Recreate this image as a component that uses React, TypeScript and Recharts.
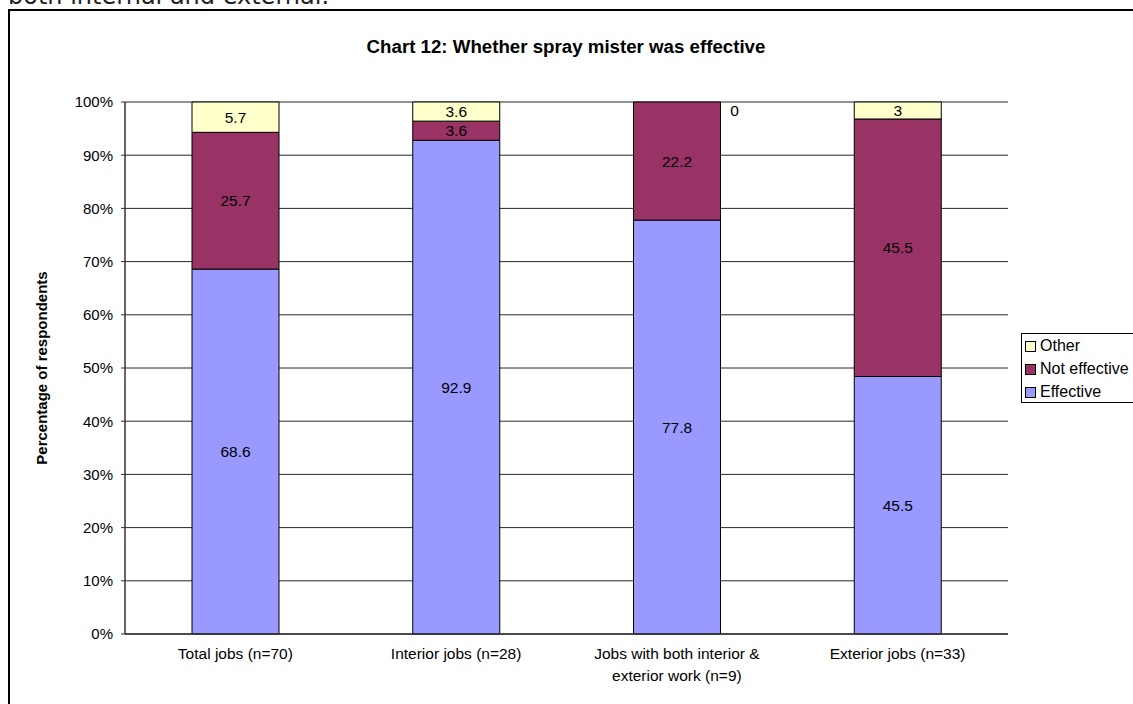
import React from 'react'
import {
  BarChart,
  Bar,
  XAxis,
  YAxis,
  CartesianGrid,
  LabelList,
} from 'recharts'

const categories = [
  'Total jobs (n=70)',
  'Interior jobs (n=28)',
  'Jobs with both interior &\nexterior work (n=9)',
  'Exterior jobs (n=33)',
]
const effective = [68.6, 92.9, 77.8, 45.5]
const notEffective = [25.7, 3.6, 22.2, 45.5]
const other = [5.7, 3.6, 0, 3]
const yTicks = [0, 0.1, 0.2, 0.3, 0.4, 0.5, 0.6, 0.7, 0.8, 0.9, 1]
const boundTicks = [0, 1, 2, 3, 4]

const data = categories.map((name, i) => ({
  name,
  effective: effective[i],
  notEffective: notEffective[i],
  other: other[i],
}))

const FONT = '"Liberation Sans", Arial, sans-serif'

const series = [
  { key: 'effective', name: 'Effective', color: '#9999FF' },
  { key: 'notEffective', name: 'Not effective', color: '#993366' },
  { key: 'other', name: 'Other', color: '#FFFFCC' },
]

const box = (props: any) => {
  const vb = props.viewBox ?? {}
  return {
    x: props.x ?? vb.x,
    y: props.y ?? vb.y,
    width: props.width ?? vb.width,
    height: props.height ?? vb.height,
  }
}

// value in the middle of each stacked segment
const segmentLabel = (props: any) => {
  const { x, y, width, height } = box(props)
  const v = props.value
  if (v == null || v === 0 || Array.isArray(v)) return null
  return (
    <text x={x + width / 2} y={y + height / 2} textAnchor="middle" dominantBaseline="central"
      fontFamily={FONT} fontSize={15.5} fill="#000">
      {v}
    </text>
  )
}

// a zero "Other" segment has no rect, so its label hangs off the top of the bar below it
const zeroLabel = (props: any) => {
  const { x, y, width } = box(props)
  if (props.value !== 0) return null
  return (
    <text x={x + width + 14} y={y + 8} textAnchor="middle" dominantBaseline="central"
      fontFamily={FONT} fontSize={15.5} fill="#000">
      0
    </text>
  )
}

const CategoryTick = (props: any) => {
  const { x, y, payload } = props
  const lines = String(payload.value).split('\n')
  return (
    <text x={x} y={y + 17} textAnchor="middle" fontFamily={FONT} fontSize={15.5} fill="#000">
      {lines.map((line, i) => (
        <tspan key={i} x={x} dy={i === 0 ? 0 : 22}>
          {line}
        </tspan>
      ))}
    </text>
  )
}

export default function App() {
  return (
    <div style={{ position: 'absolute', left: 0, top: 0, width: 1133, height: 704, overflow: 'hidden', background: '#fff' }}>
      <div style={{ position: 'absolute', left: 8, top: -18, fontFamily: '"DejaVu Sans", Verdana, sans-serif', fontSize: 24, color: '#222', whiteSpace: 'nowrap' }}>
        both internal and external.
      </div>
      <div style={{ position: 'absolute', left: 8, top: 9, width: 1200, height: 800, border: '2px solid #000' }} />

      <div style={{ position: 'absolute', left: 0, top: 0 }}>
        <BarChart
          width={1133}
          height={704}
          data={data}
          stackOffset="expand"
          margin={{ top: 102, right: 125, bottom: 0, left: 65 }}
        >
          <CartesianGrid xAxisId="cat" vertical={false} stroke="#000" strokeOpacity={0.85} />
          <XAxis
            xAxisId="bounds"
            type="number"
            domain={[0, 4]}
            ticks={boundTicks}
            tick={false}
            axisLine={false}
            tickSize={4}
            tickLine={{ stroke: '#333' }}
            height={0}
          />
          <XAxis
            xAxisId="cat"
            dataKey="name"
            height={70}
            tickLine={false}
            axisLine={{ stroke: '#333', strokeWidth: 1.5 }}
            tick={<CategoryTick />}
            interval={0}
          />
          <XAxis
            xAxisId="top"
            orientation="top"
            dataKey="name"
            height={0}
            tick={false}
            tickLine={false}
            axisLine={{ stroke: '#888' }}
          />
          <YAxis
            width={60}
            domain={[0, 1]}
            ticks={yTicks}
            tickFormatter={(v: number) => `${Math.round(v * 100)}%`}
            tick={{ fill: '#000', fontSize: 15, fontFamily: FONT }}
            tickSize={4}
            tickMargin={8}
            tickLine={{ stroke: '#333' }}
            axisLine={{ stroke: '#333', strokeWidth: 1.5 }}
          />
          <YAxis
            yAxisId="right"
            orientation="right"
            width={0}
            tick={false}
            tickLine={false}
            axisLine={{ stroke: '#888' }}
          />
          {series.map((s) => (
            <Bar
              key={s.key}
              xAxisId="cat"
              dataKey={s.key}
              name={s.name}
              stackId="a"
              fill={s.color}
              stroke="#000"
              strokeWidth={1}
              barSize={87}
              isAnimationActive={false}
            >
              <LabelList dataKey={s.key} content={segmentLabel} />
              {s.key === 'notEffective' && <LabelList dataKey="other" content={zeroLabel} />}
            </Bar>
          ))}
        </BarChart>
      </div>

      <div style={{ position: 'absolute', left: 566, top: 36, transform: 'translateX(-50%)', fontFamily: FONT, fontWeight: 'bold', fontSize: 18.7, whiteSpace: 'nowrap' }}>
        Chart 12: Whether spray mister was effective
      </div>

      <div style={{ position: 'absolute', left: 41, top: 368, transform: 'translate(-50%, -50%) rotate(-90deg)', fontFamily: FONT, fontWeight: 'bold', fontSize: 15, whiteSpace: 'nowrap' }}>
        Percentage of respondents
      </div>

      <div style={{ position: 'absolute', left: 1021, top: 333, width: 130, height: 68, border: '1px solid #000', fontFamily: FONT, fontSize: 16, background: '#fff' }}>
        {[...series].reverse().map((s, i) => (
          <div key={s.key} style={{ position: 'absolute', left: 3, top: 2 + i * 23, height: 20, display: 'flex', alignItems: 'center', whiteSpace: 'nowrap' }}>
            <span style={{ display: 'inline-block', width: 9, height: 9, background: s.color, border: '1px solid #000', marginRight: 4 }} />
            {s.name}
          </div>
        ))}
      </div>
    </div>
  )
}
